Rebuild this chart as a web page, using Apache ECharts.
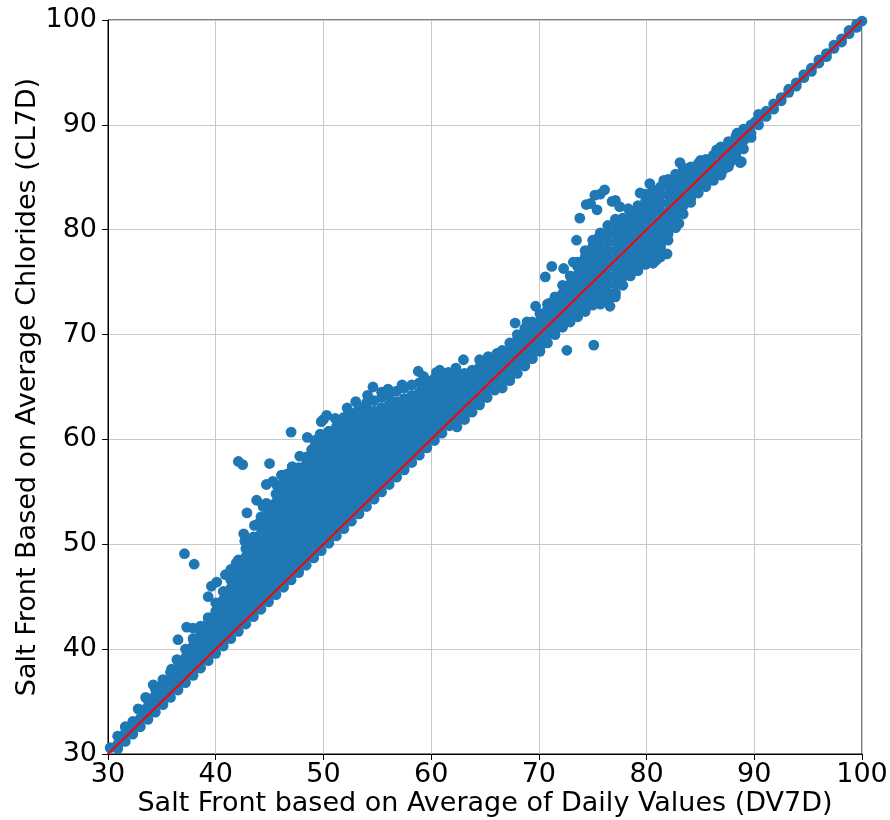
<!DOCTYPE html>
<html>
<head>
<meta charset="utf-8">
<title>Salt Front: CL7D vs DV7D</title>
<script src="https://cdn.jsdelivr.net/npm/echarts@6/dist/echarts.min.js"></script>
<style>
  html, body { margin: 0; padding: 0; background: #ffffff; }
  #chart { width: 890px; height: 820px; }
</style>
</head>
<body>
<div id="chart"></div>
<script>
// Axis ticks (river mile of the salt front)
const axisTicks = [30, 40, 50, 60, 70, 80, 90, 100];

// Readings grouped by DV7D: each row is [DV7D, CL7D, CL7D, ...]
const band30to40 = [
  [30.2, 29.8, 30.6],
  [30.9, 30.5, 30.9, 31.7],
  [31.6, 31.2, 32.0, 32.6],
  [32.3, 31.9, 32.3, 33.1],
  [33.0, 32.6, 33.4, 34.2],
  [33.7, 33.3, 33.7, 34.5, 35.2],
  [34.4, 34.0, 34.8, 35.6, 36.2],
  [35.1, 34.7, 35.1, 35.9, 36.7, 37.1],
  [35.8, 35.4, 36.2, 37.0, 37.8],
  [36.5, 36.1, 36.5, 37.3, 38.1, 38.9],
  [37.2, 36.8, 37.6, 38.4, 39.2, 40.0],
  [37.9, 37.5, 37.9, 38.7, 39.5, 40.3, 41.0],
  [38.6, 38.2, 39.0, 39.8, 40.6, 41.4, 41.9],
  [39.3, 38.9, 39.3, 40.1, 40.9, 41.7, 42.5, 43.0]
];

const band40to50 = [
  [40.0, 39.6, 40.4, 41.2, 42.0, 42.8, 43.6, 44.4],
  [40.7, 40.3, 40.7, 41.5, 42.3, 43.1, 43.9, 44.7, 45.5],
  [41.4, 41.0, 41.8, 42.6, 43.4, 44.2, 45.0, 45.8, 46.6, 47.0],
  [42.1, 41.7, 42.1, 42.9, 43.7, 44.5, 45.3, 46.1, 46.9, 47.7, 48.5],
  [42.8, 42.4, 43.2, 44.0, 44.8, 45.6, 46.4, 47.2, 48.0, 48.8, 49.6],
  [43.5, 43.1, 43.5, 44.3, 45.1, 45.9, 46.7, 47.5, 48.3, 49.1, 49.9, 50.7],
  [44.2, 43.8, 44.6, 45.4, 46.2, 47.0, 47.8, 48.6, 49.4, 50.2, 51.0, 51.8, 52.6],
  [44.9, 44.5, 44.9, 45.7, 46.5, 47.3, 48.1, 48.9, 49.7, 50.5, 51.3, 52.1, 52.9, 53.7],
  [45.6, 45.2, 46.0, 46.8, 47.6, 48.4, 49.2, 50.0, 50.8, 51.6, 52.4, 53.2, 54.0, 54.8],
  [46.3, 45.9, 46.3, 47.1, 47.9, 48.7, 49.5, 50.3, 51.1, 51.9, 52.7, 53.5, 54.3, 55.1, 55.9],
  [47.0, 46.6, 47.4, 48.2, 49.0, 49.8, 50.6, 51.4, 52.2, 53.0, 53.8, 54.6, 55.4, 56.2, 56.9],
  [47.7, 47.3, 47.7, 48.5, 49.3, 50.1, 50.9, 51.7, 52.5, 53.3, 54.1, 54.9, 55.7, 56.5, 57.3],
  [48.4, 48.0, 48.8, 49.6, 50.4, 51.2, 52.0, 52.8, 53.6, 54.4, 55.2, 56.0, 56.8, 57.6, 58.3],
  [49.1, 48.7, 49.1, 49.9, 50.7, 51.5, 52.3, 53.1, 53.9, 54.7, 55.5, 56.3, 57.1, 57.9, 58.7, 59.2],
  [49.8, 49.4, 50.2, 51.0, 51.8, 52.6, 53.4, 54.2, 55.0, 55.8, 56.6, 57.4, 58.2, 59.0, 59.8]
];

const band50to60 = [
  [50.5, 50.1, 50.5, 51.3, 52.1, 52.9, 53.7, 54.5, 55.3, 56.1, 56.9, 57.7, 58.5, 59.3, 60.1, 60.8],
  [51.2, 50.8, 51.6, 52.4, 53.2, 54.0, 54.8, 55.6, 56.4, 57.2, 58.0, 58.8, 59.6, 60.4, 61.2],
  [51.9, 51.5, 51.9, 52.7, 53.5, 54.3, 55.1, 55.9, 56.7, 57.5, 58.3, 59.1, 59.9, 60.7, 61.5, 62.1],
  [52.6, 52.2, 53.0, 53.8, 54.6, 55.4, 56.2, 57.0, 57.8, 58.6, 59.4, 60.2, 61.0, 61.8, 62.5],
  [53.3, 52.9, 53.3, 54.1, 54.9, 55.7, 56.5, 57.3, 58.1, 58.9, 59.7, 60.5, 61.3, 62.1, 63.0],
  [54.0, 53.6, 54.4, 55.2, 56.0, 56.8, 57.6, 58.4, 59.2, 60.0, 60.8, 61.6, 62.4, 63.0, 63.5],
  [54.7, 54.3, 54.7, 55.5, 56.3, 57.1, 57.9, 58.7, 59.5, 60.3, 61.1, 61.9, 62.7, 63.7],
  [55.4, 55.0, 55.8, 56.6, 57.4, 58.2, 59.0, 59.8, 60.6, 61.4, 62.2, 63.0, 64.0],
  [56.1, 55.7, 56.1, 56.9, 57.7, 58.5, 59.3, 60.1, 60.9, 61.7, 62.5, 63.3, 64.2],
  [56.8, 56.4, 57.2, 58.0, 58.8, 59.6, 60.4, 61.2, 62.0, 62.8, 63.6, 64.6],
  [57.5, 57.1, 57.5, 58.3, 59.1, 59.9, 60.7, 61.5, 62.3, 63.1, 63.9, 64.9],
  [58.2, 57.8, 58.6, 59.4, 60.2, 61.0, 61.8, 62.6, 63.4, 64.2, 65.2],
  [58.9, 58.5, 58.9, 59.7, 60.5, 61.3, 62.1, 62.9, 63.7, 64.5, 65.4],
  [59.6, 59.2, 60.0, 60.8, 61.6, 62.4, 63.2, 64.0, 64.8, 65.6]
];

const band60to70 = [
  [60.3, 59.9, 60.3, 61.1, 61.9, 62.7, 63.5, 64.3, 65.1, 65.8],
  [61.0, 60.6, 61.4, 62.2, 63.0, 63.8, 64.6, 65.4, 65.9],
  [61.7, 61.3, 61.7, 62.5, 63.3, 64.1, 64.9, 65.7],
  [62.4, 61.2, 62.0, 62.8, 63.6, 64.4, 65.2, 66.0],
  [63.1, 61.9, 62.3, 63.1, 63.9, 64.7, 65.5, 66.3],
  [63.8, 62.6, 63.4, 64.2, 65.0, 65.8, 66.6],
  [64.5, 63.3, 63.7, 64.5, 65.3, 66.1, 66.9],
  [65.2, 64.0, 64.8, 65.6, 66.4, 67.2],
  [65.9, 64.7, 65.1, 65.9, 66.7, 67.5],
  [66.6, 64.9, 65.7, 66.5, 67.3, 68.1, 68.5],
  [67.3, 65.6, 66.0, 66.8, 67.6, 68.4, 69.2],
  [68.0, 66.3, 67.1, 67.9, 68.7, 69.5, 70.0],
  [68.7, 67.0, 67.4, 68.2, 69.0, 69.8, 70.6],
  [69.4, 67.7, 68.5, 69.3, 70.1, 70.9, 71.2]
];

const band70to80 = [
  [70.1, 68.4, 68.8, 69.6, 70.4, 71.2, 72.0],
  [70.8, 69.2, 70.0, 70.8, 71.6, 72.4, 72.9],
  [71.5, 70.0, 70.4, 71.2, 72.0, 72.8, 73.6],
  [72.2, 70.7, 71.5, 72.3, 73.1, 73.9, 74.7],
  [72.9, 71.2, 71.6, 72.4, 73.2, 74.0, 74.8, 75.6],
  [73.6, 71.7, 72.5, 73.3, 74.1, 74.9, 75.7, 76.5, 76.9],
  [74.3, 72.2, 72.6, 73.4, 74.2, 75.0, 75.8, 76.6, 77.4, 78.0],
  [75.0, 72.8, 73.6, 74.4, 75.2, 76.0, 76.8, 77.6, 78.4, 79.0],
  [75.7, 72.9, 73.3, 74.1, 74.9, 75.7, 76.5, 77.3, 78.1, 78.9, 79.7],
  [76.4, 73.2, 74.0, 74.8, 75.6, 76.4, 77.2, 78.0, 78.8, 79.6, 80.4],
  [77.1, 73.6, 74.0, 74.8, 75.6, 76.4, 77.2, 78.0, 78.8, 79.6, 80.4, 81.0],
  [77.8, 74.7, 75.5, 76.3, 77.1, 77.9, 78.7, 79.5, 80.3, 81.1],
  [78.5, 75.6, 76.0, 76.8, 77.6, 78.4, 79.2, 80.0, 80.8, 81.6],
  [79.2, 76.1, 76.9, 77.7, 78.5, 79.3, 80.1, 80.9, 81.7, 82.3],
  [79.9, 76.7, 77.1, 77.9, 78.7, 79.5, 80.3, 81.1, 81.9, 82.7, 83.4]
];

const band80to90 = [
  [80.6, 76.8, 77.6, 78.4, 79.2, 80.0, 80.8, 81.6, 82.4, 83.2, 83.8],
  [81.3, 77.4, 77.8, 78.5, 79.3, 80.1, 80.9, 81.7, 82.5, 83.3, 84.1],
  [82.0, 79.0, 79.6, 80.3, 81.0, 81.7, 82.5, 83.3, 84.1, 84.8],
  [82.7, 80.2, 80.6, 81.3, 82.1, 82.9, 83.7, 84.5, 85.3],
  [83.4, 81.5, 82.3, 83.1, 83.9, 84.7, 85.5, 85.9],
  [84.1, 82.6, 83.0, 83.8, 84.6, 85.4, 86.0],
  [84.8, 83.5, 84.3, 85.1, 85.9, 86.3],
  [85.5, 84.1, 84.5, 85.3, 86.1, 86.7],
  [86.2, 84.7, 85.5, 86.3, 87.1],
  [86.9, 85.2, 85.6, 86.4, 87.2, 87.9],
  [87.6, 86.0, 86.8, 87.6, 88.4],
  [88.3, 86.9, 87.3, 88.1, 88.9],
  [89.0, 87.7, 88.5, 89.3, 89.6],
  [89.7, 88.8, 89.2, 90.0]
];

const band90to100 = [
  [90.4, 90.0, 90.6, 91.0],
  [91.1, 90.8, 91.3],
  [91.8, 91.5, 92.0],
  [92.5, 92.3, 92.6],
  [93.2, 93.1, 93.4],
  [93.9, 93.7, 94.0],
  [94.6, 94.5, 94.8],
  [95.3, 95.1, 95.4],
  [96.0, 95.9, 96.2],
  [96.7, 96.5, 96.8],
  [97.4, 97.3, 97.6],
  [98.1, 97.9, 98.2],
  [98.8, 98.7, 99.0],
  [99.5, 99.3, 99.6],
  [100.0, 99.9]
];

// Scattered readings away from the main band, as [DV7D, CL7D]
const scattered = [
  [32.8, 34.3], [33.5, 35.4], [34.2, 36.6], [35.9, 38.1], [36.4, 39.0], [36.5, 40.9],
  [37.3, 42.1], [37.9, 42.0], [38.6, 42.2], [39.3, 45.0], [39.6, 46.0],
  [37.1, 49.1], [38.0, 48.1],
  [40.1, 46.4], [40.9, 47.1], [41.4, 47.6], [41.9, 48.2], [42.6, 51.0], [42.7, 50.3],
  [42.9, 53.0], [43.6, 51.8], [44.0, 52.0], [44.4, 53.6], [44.7, 53.9], [43.8, 54.2],
  [42.1, 57.9], [42.5, 57.6], [45.0, 57.7], [44.7, 55.7], [45.3, 56.0], [45.7, 55.6],
  [46.1, 56.6], [46.6, 56.7], [47.1, 57.4], [47.0, 60.7], [47.8, 58.4],
  [48.5, 60.2], [48.9, 59.0], [49.2, 59.9], [49.7, 60.5], [49.8, 61.7],
  [50.0, 61.9], [50.3, 62.3], [51.1, 62.0], [52.2, 63.0], [53.0, 63.6], [54.1, 64.2],
  [54.6, 65.0], [55.4, 64.5], [56.0, 64.8], [57.3, 65.2], [58.8, 66.5], [59.3, 66.0],
  [60.5, 66.4], [60.8, 66.6], [61.6, 66.4], [62.3, 66.8], [63.0, 67.6], [64.5, 67.6],
  [65.3, 67.9], [66.1, 68.2], [67.8, 71.1], [68.9, 71.2], [69.7, 72.7], [71.0, 73.0],
  [70.6, 75.5], [71.2, 76.5], [72.3, 76.3], [73.2, 76.9],
  [73.5, 79.0], [73.8, 81.1], [74.4, 82.4], [74.8, 82.5], [75.2, 83.3], [75.7, 83.4],
  [76.1, 83.8], [75.4, 81.9], [76.8, 82.7], [77.1, 82.8], [77.5, 82.2], [78.3, 82.0],
  [79.4, 83.5], [80.3, 84.4], [75.5, 79.2],
  [72.6, 68.5], [75.1, 69.0], [76.6, 72.7], [77.1, 73.9],
  [80.9, 77.1], [81.3, 78.1], [81.9, 77.7], [83.0, 80.6], [83.1, 86.4], [81.6, 84.7],
  [85.0, 86.6], [86.5, 87.6], [88.4, 89.2], [87.1, 85.7], [87.8, 86.5], [88.7, 86.4],
  [88.8, 86.5], [90.1, 90.3]
];

// 1:1 reference line end points
const oneToOneLine = [[30, 30], [100, 100]];

function flattenRows(rows) {
  const out = [];
  rows.forEach(row => {
    for (let i = 1; i < row.length; i++) out.push([row[0], row[i]]);
  });
  return out;
}

const readings = [].concat(
  flattenRows(band30to40),
  flattenRows(band40to50),
  flattenRows(band50to60),
  flattenRows(band60to70),
  flattenRows(band70to80),
  flattenRows(band80to90),
  flattenRows(band90to100),
  scattered
);

const chart = echarts.init(document.getElementById('chart'), null, { renderer: 'canvas' });

const FONT = 'DejaVu Sans';
const axisCommon = {
  type: 'value',
  min: axisTicks[0],
  max: axisTicks[axisTicks.length - 1],
  interval: axisTicks[1] - axisTicks[0],
  nameLocation: 'middle',
  nameMoveOverlap: false,
  nameTextStyle: { fontFamily: FONT, fontSize: 27, color: '#000' },
  axisLine: { show: true, onZero: false, lineStyle: { color: '#000', width: 1 } },
  axisTick: { show: true, inside: false, length: 6, lineStyle: { color: '#000', width: 1 } },
  splitLine: { show: true, lineStyle: { color: '#c8c8c8', width: 1 } }
};

chart.setOption({
  animation: false,
  backgroundColor: '#ffffff',
  grid: {
    left: 108, right: 28, top: 20, bottom: 66,
    containLabel: false,
    outerBoundsMode: 'none',
    show: true, borderColor: '#000', borderWidth: 1, backgroundColor: 'transparent'
  },
  xAxis: Object.assign({}, axisCommon, {
    name: 'Salt Front based on Average of Daily Values (DV7D)',
    nameGap: 36,
    axisLabel: { fontFamily: FONT, fontSize: 27, color: '#000', margin: 7 }
  }),
  yAxis: Object.assign({}, axisCommon, {
    name: 'Salt Front Based on Average Chlorides (CL7D)',
    nameGap: 67,
    axisLabel: { fontFamily: FONT, fontSize: 27, color: '#000', margin: 11 }
  }),
  series: [
    {
      type: 'scatter',
      data: readings,
      symbol: 'circle',
      symbolSize: 10.8,
      itemStyle: { color: '#1f77b4', opacity: 1 },
      clip: true,
      z: 2
    },
    {
      type: 'line',
      data: oneToOneLine,
      symbol: 'none',
      lineStyle: { color: '#ff0000', width: 1.8 },
      z: 3
    }
  ]
});
</script>
</body>
</html>
